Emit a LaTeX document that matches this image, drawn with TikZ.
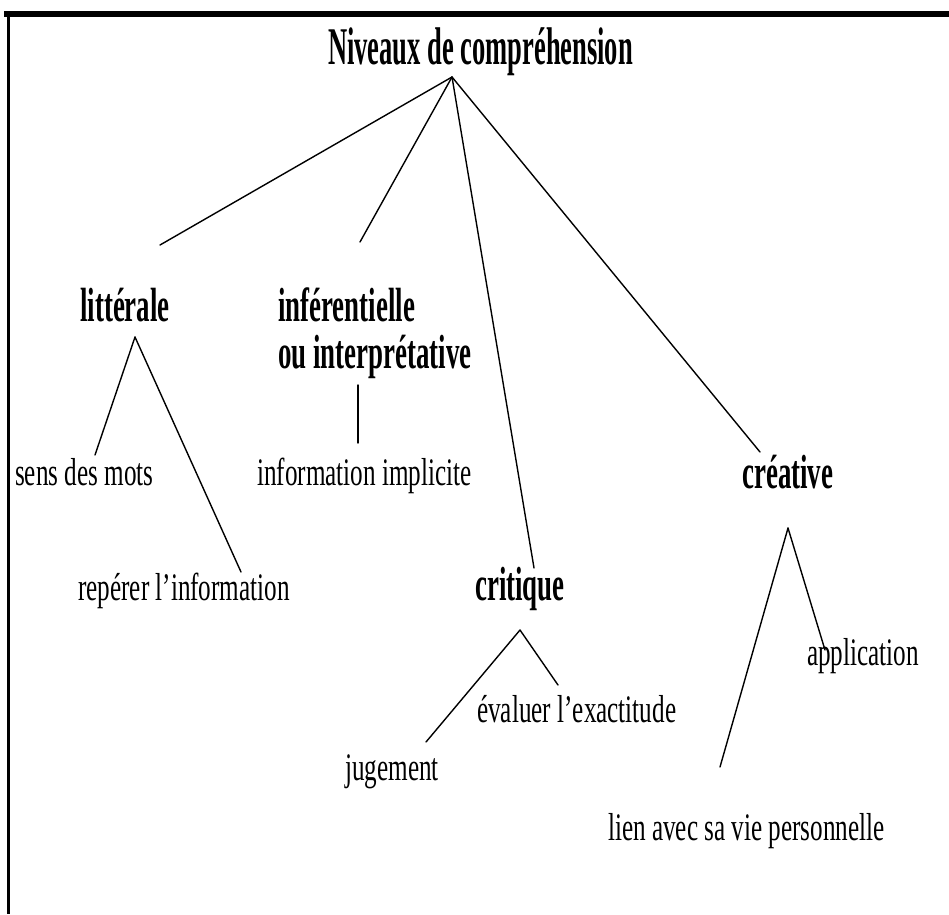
\documentclass[tikz,border=0pt]{standalone}
\usepackage{fontspec}
\newfontfamily\regf{Liberation Serif}[FakeStretch=0.645]
\newfontfamily\boldf{Liberation Serif}[FakeStretch=0.56]
\newfontfamily\titlef{Liberation Serif}[FakeStretch=0.50]
\begin{document}
\begin{tikzpicture}[x=1pt,y=-1pt,
  lbl/.style={inner sep=0pt,anchor=base west,font=\regf\fontsize{39}{42}\selectfont},
  head/.style={inner sep=0pt,anchor=base west,align=left,font=\boldf\bfseries\fontsize{48}{47}\selectfont},
  ttl/.style={inner sep=0pt,anchor=base west,font=\titlef\bfseries\fontsize{53}{56}\selectfont},
  link/.style={line width=1.4pt,line cap=round}]
\useasboundingbox (0,0) rectangle (949,914);
\fill[white] (0,0) rectangle (949,914);
% frame
\draw[line width=6pt] (4,13.5) -- (949,13.5);
\draw[line width=3pt] (8,11) -- (8,914);
% texts
\node[ttl] (title) at (328,64) {Niveaux de compréhension};
\node[head] (lit) at (80,321) {littérale};
\node[head] (inf) at (278,368) {inférentielle\\ou interprétative};
\node[head] (crit) at (475,600) {critique};
\node[head] (cre) at (742,488) {créative};
\node[lbl] (sens) at (15,485) {sens des mots};
\node[lbl] (impl) at (257,485) {information implicite};
\node[lbl] (rep) at (78,600) {repérer l’information};
\node[lbl] (eval) at (477,722) {évaluer l’exactitude};
\node[lbl] (jug) at (345,780) {jugement};
\node[lbl] (app) at (807,665) {application};
\node[lbl] (lien) at (608,840) {lien avec sa vie personnelle};
% connector end points
\coordinate (ta) at (452,77);
\coordinate (litT) at (160,245);
\coordinate (infT) at (360,242);
\coordinate (critT) at (534,568);
\coordinate (creT) at (760,452);
\coordinate (litA) at (135,337);
\coordinate (sensT) at (95,455);
\coordinate (repT) at (241,572);
\coordinate (infB) at (358,385);
\coordinate (implT) at (358,443);
\coordinate (critA) at (520,630);
\coordinate (jugT) at (426,742);
\coordinate (evalT) at (558,685);
\coordinate (creA) at (788,528);
\coordinate (lienT) at (720,767);
\coordinate (appT) at (825,650);
% connectors
\draw[link] (ta) -- (litT);
\draw[link] (ta) -- (infT);
\draw[link] (ta) -- (critT);
\draw[link] (ta) -- (creT);
\draw[link] (litA) -- (sensT);
\draw[link] (litA) -- (repT);
\draw[link] (infB) -- (implT);
\draw[link] (critA) -- (jugT);
\draw[link] (critA) -- (evalT);
\draw[link] (creA) -- (lienT);
\draw[link] (creA) -- (appT);
\end{tikzpicture}
\end{document}
